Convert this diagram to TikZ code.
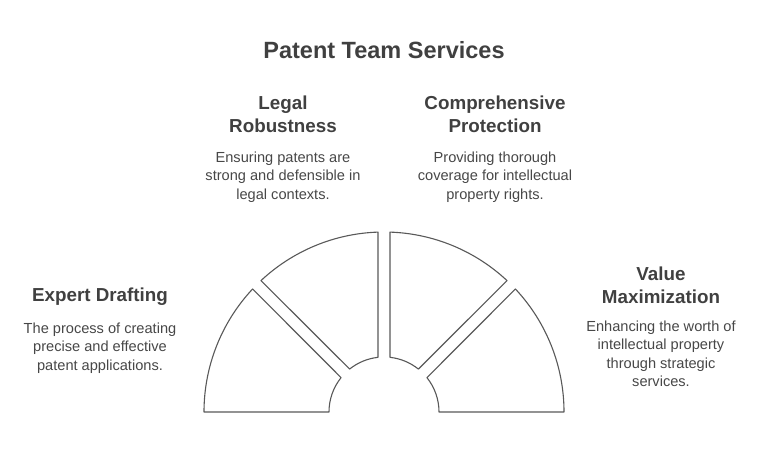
\documentclass[tikz,border=0pt]{standalone}
\usepackage{fontspec}
\setmainfont{Liberation Sans}
\usetikzlibrary{calc}
\begin{document}
\begin{tikzpicture}[x=1pt,y=1pt,
  seg/.style={draw=black!65,fill=white,line width=1.1pt,line join=round},
  head/.style={font=\bfseries\fontsize{18.8}{23}\selectfont,text=black!75,align=center},
  body/.style={font=\fontsize{14.6}{18.5}\selectfont,text=black!72,align=center}]
\useasboundingbox (0,0) rectangle (768,-457);
\def\R{180}\def\r{55}
\coordinate (c) at (384,-412);
\foreach \ao/\bo/\bi/\ai in {180/136.9/141.3/180, 133.1/91.9/96.3/128.7, 88.1/46.9/51.3/83.7, 43.1/0/0/38.7}{
  \draw[seg] ($(c)+(\ao:\R)$) arc[start angle=\ao,end angle=\bo,radius=\R] -- ($(c)+(\bi:\r)$) arc[start angle=\bi,end angle=\ai,radius=\r] -- cycle;
}
\node[font=\bfseries\fontsize{23.5}{28}\selectfont,text=black!75] (t) at (384,-50) {Patent Team Services};
\node[head] (h1) at (283,-114) {Legal\\Robustness};
\node[body] (b1) at (283,-177) {Ensuring patents are\\strong and defensible in\\legal contexts.};
\node[head] (h2) at (495,-114) {Comprehensive\\Protection};
\node[body] (b2) at (495,-177) {Providing thorough\\coverage for intellectual\\property rights.};
\node[head] (h3) at (100,-297) {Expert Drafting};
\node[body] (b3) at (100,-348) {The process of creating\\precise and effective\\patent applications.};
\node[head] (h4) at (661,-285) {Value\\Maximization};
\node[body] (b4) at (661,-354) {Enhancing the worth of\\intellectual property\\through strategic\\services.};
\end{tikzpicture}
\end{document}
